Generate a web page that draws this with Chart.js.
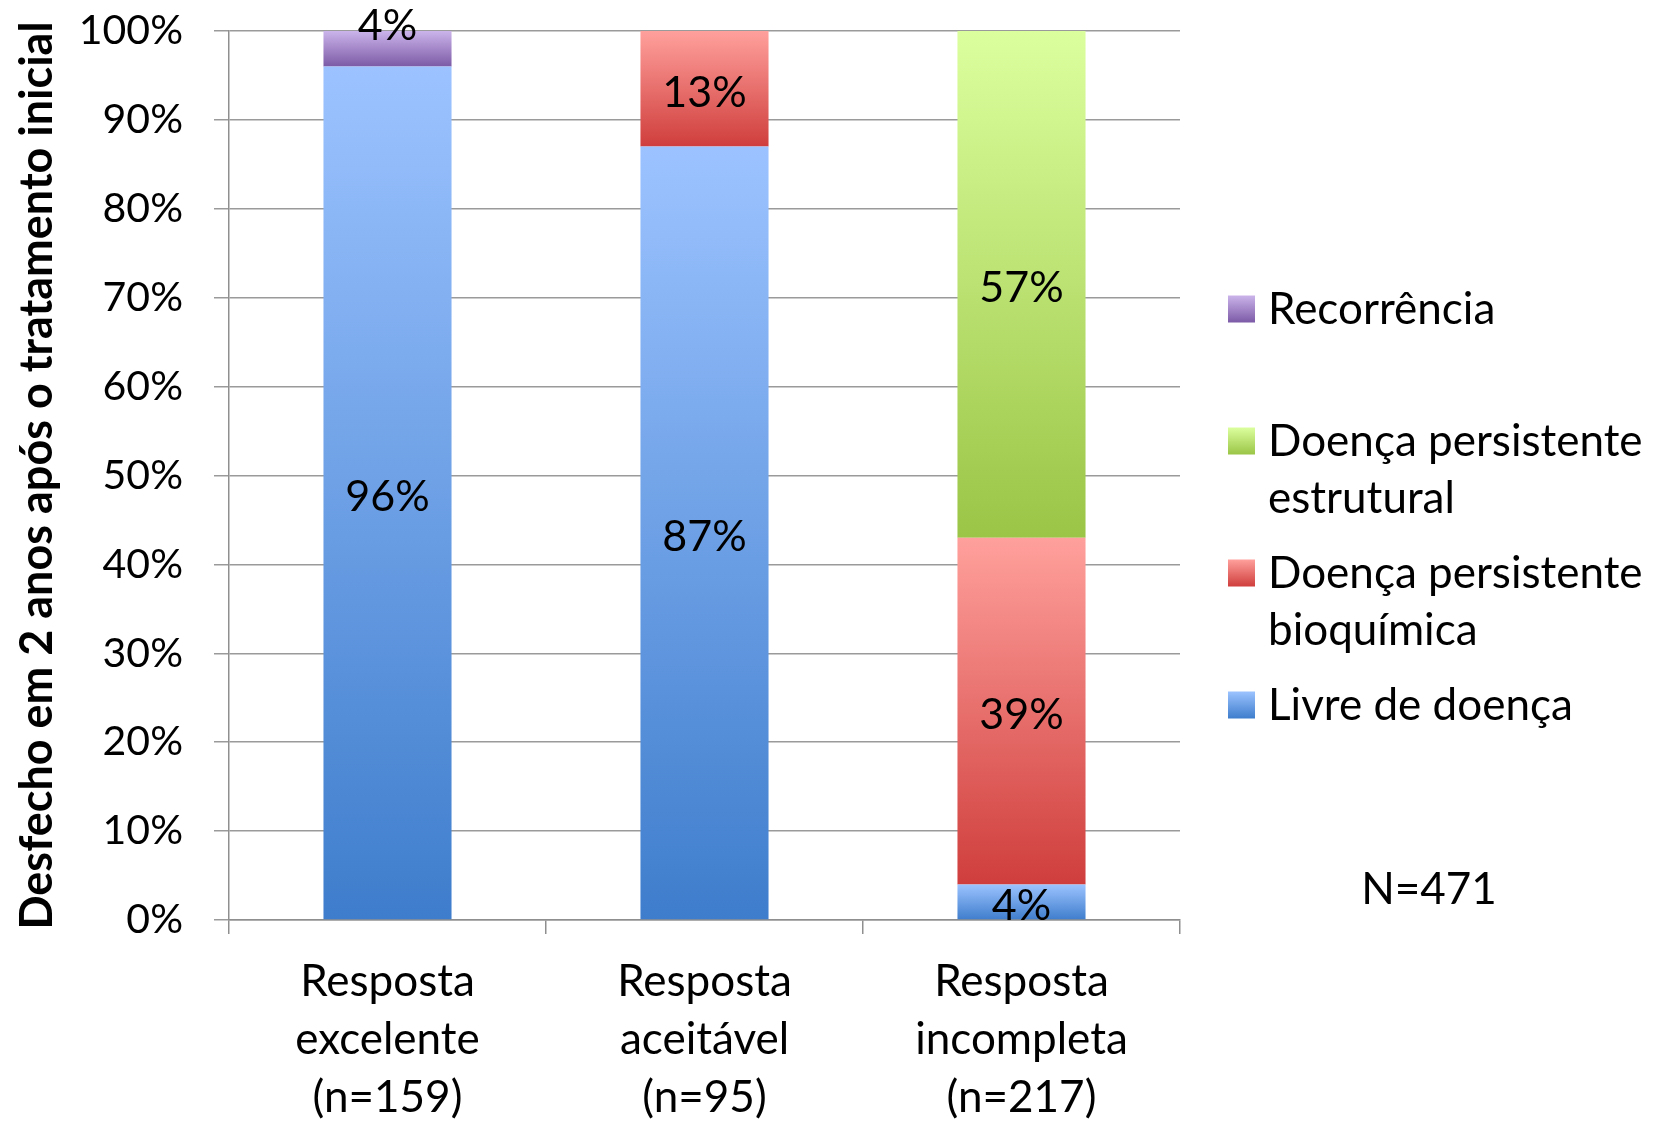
<!DOCTYPE html>
<html><head><meta charset="utf-8">
<script src="https://cdn.jsdelivr.net/npm/chart.js@4.4.0/dist/chart.umd.min.js"></script>
<style>html,body{margin:0;padding:0;background:#fff;}#wrap{width:1660px;height:1123px;}</style>
</head><body><div id="wrap"><canvas id="c" width="1660" height="1123"></canvas></div>
<script>
// ---- data ----
const categories = [["Resposta","excelente","(n=159)"],["Resposta","aceitável","(n=95)"],["Resposta","incompleta","(n=217)"]];
const seriesNames = ["Livre de doença","Doença persistente bioquímica","Doença persistente estrutural","Recorrência"];
const livreDeDoenca = [96, 87, 4];
const persistenteBioquimica = [0, 13, 39];
const persistenteEstrutural = [0, 0, 57];
const recorrencia = [4, 0, 0];
const yTickValues = [0,10,20,30,40,50,60,70,80,90,100];
const legendLines = [["Recorrência"],["Doença persistente","estrutural"],["Doença persistente","bioquímica"],["Livre de doença"]];
const yAxisTitle = "Desfecho em 2 anos após o tratamento inicial";
const totalNote = "N=471";

// ---- styles ----
const FONT = "Lato";
const gradColors = [
  ["#9cc3ff", "#3e7dcc"],
  ["#ffa09c", "#cf3e3c"],
  ["#dcff9e", "#9ac546"],
  ["#cbb4ea", "#7c5aa6"]
];
const seriesData = [livreDeDoenca, persistenteBioquimica, persistenteEstrutural, recorrencia];

function segBounds(ds, idx){
  let bottom = 0;
  for (let k = 0; k < ds; k++) bottom += seriesData[k][idx];
  return [bottom, bottom + seriesData[ds][idx]];
}

function makeBg(ds){
  return function(ctx){
    const chart = ctx.chart;
    const ys = chart.scales && chart.scales.y;
    if (!ys || !chart.chartArea || ctx.dataIndex === undefined) return gradColors[ds][0];
    const [b, t] = segBounds(ds, ctx.dataIndex);
    const y0 = ys.getPixelForValue(t), y1 = ys.getPixelForValue(b);
    if (!isFinite(y0) || !isFinite(y1) || y0 === y1) return gradColors[ds][0];
    const g = chart.ctx.createLinearGradient(0, y0, 0, y1);
    g.addColorStop(0, gradColors[ds][0]);
    g.addColorStop(1, gradColors[ds][1]);
    return g;
  };
}

const datasets = seriesData.map((d, i) => ({
  label: seriesNames[i],
  data: d,
  backgroundColor: makeBg(i),
  borderWidth: 0,
  barPercentage: 0.404,
  categoryPercentage: 1.0
}));

const labelPlugin = {
  id: 'segLabels',
  afterDatasetsDraw(chart){
    const c = chart.ctx;
    c.save();
    c.font = `43px ${FONT}`;
    c.fillStyle = '#000';
    c.textAlign = 'center';
    c.textBaseline = 'middle';
    chart.data.datasets.forEach((ds, i) => {
      const meta = chart.getDatasetMeta(i);
      meta.data.forEach((bar, j) => {
        const v = ds.data[j];
        if (!v) return;
        const [b, t] = segBounds(i, j);
        const h = Math.abs(bar.base - bar.y);
        let y = (bar.y + bar.base) / 2 + 3;
        if (t >= 100 && h < 42) y = bar.y - 6;
        c.fillText(v + '%', bar.x, y + 1);
      });
    });
    c.restore();
  }
};

const legendPlugin = {
  id: 'customLegend',
  afterDraw(chart){
    const c = chart.ctx;
    c.save();
    const sqX = 1228, sq = 27, txX = 1268, startY = 309, step = 132, lh = 57;
    c.font = `44px ${FONT}`;
    c.fillStyle = '#000';
    c.textAlign = 'left';
    c.textBaseline = 'middle';
    legendLines.forEach((lines, k) => {
      const ds = seriesData.length - 1 - k;
      const cy = startY + k * step;
      const g = c.createLinearGradient(0, cy - sq/2, 0, cy + sq/2);
      g.addColorStop(0, gradColors[ds][0]);
      g.addColorStop(1, gradColors[ds][1]);
      c.fillStyle = g;
      c.fillRect(sqX, cy - sq/2, sq, sq);
      c.fillStyle = '#000';
      lines.forEach((ln, n) => c.fillText(ln, txX, cy + n * lh + 1));
    });
    c.textAlign = 'center';
    c.fillText(totalNote, 1429, 890);
    c.restore();
  }
};

new Chart(document.getElementById('c'), {
  type: 'bar',
  data: { labels: categories, datasets },
  options: {
    responsive: false,
    devicePixelRatio: 1,
    animation: false,
    layout: { padding: { top: 31, right: 480, left: 0, bottom: 0 } },
    plugins: { legend: { display: false }, tooltip: { enabled: false } },
    scales: {
      x: {
        stacked: true,
        grid: { offset: true, drawOnChartArea: false, drawTicks: true, tickLength: 14, color: '#8f8f8f', lineWidth: 1.5 },
        border: { display: true, color: '#8f8f8f', width: 1.5 },
        ticks: { font: { family: FONT, size: 44, lineHeight: 1.32 }, color: '#000', padding: 19, maxRotation: 0, autoSkip: false },
        afterFit(s){ s.height = 203; s.paddingLeft = 0; s.paddingRight = 0; }
      },
      y: {
        stacked: true,
        min: 0, max: 100,
        afterBuildTicks(s){ s.ticks = yTickValues.map(v => ({ value: v })); },
        ticks: { callback: v => v + '%', font: { family: FONT, size: 41, lineHeight: 1.2 }, color: '#000', padding: 31 },
        grid: { color: '#9a9a9a', lineWidth: 1.5, tickLength: 15, drawTicks: true },
        border: { display: true, color: '#8f8f8f', width: 1.5 },
        title: { display: true, text: yAxisTitle, font: { family: FONT, size: 45, weight: 'bold', lineHeight: 1.2 }, color: '#000', padding: { top: 10, bottom: 0 } },
        afterFit(s){ s.width = 229; s.paddingTop = 0; s.paddingBottom = 0; }
      }
    }
  },
  plugins: [labelPlugin, legendPlugin]
});
</script>
</body></html>
